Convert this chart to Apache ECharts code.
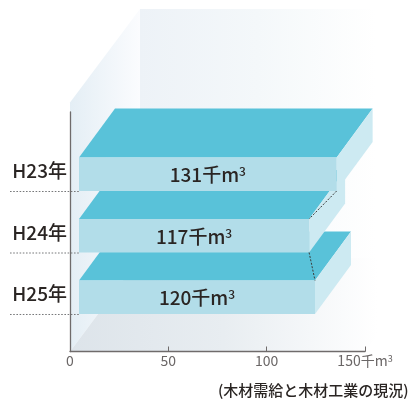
<!DOCTYPE html>
<html><head><meta charset="utf-8">
<style>html,body{margin:0;padding:0;background:#fff}#c{width:408px;height:403px}</style>
<script src="https://cdn.jsdelivr.net/npm/echarts@6/dist/echarts.min.js"></script></head>
<body><div id="c"></div>
<script>
const categories = ['H25年', 'H24年', 'H23年'];
const values = [120, 117, 131];
const slotIndex = [0, 1, 2];
const xTicks = [0, 50, 100, 150];
const source = '(木材需給と木材工業の現況)';

const FONT = '"Noto Sans CJK JP","Noto Sans",sans-serif';
const TEXT = '#2a2523', AXIS = '#6f6b6b', TICKTEXT = '#6a6666';
const TOP = '#59c2d9', FRONT = '#b2dde9', SIDE = '#cdeaf2';
const INSET = 9, BAR_H = 33.5;
const chart = echarts.init(document.getElementById('c'), null, {renderer: 'canvas'});
const grad = (x1, x2, stops) => ({type: 'linear', x: x1, y: 0, x2: x2, y2: 0, global: true,
  colorStops: stops.map((c, i) => ({offset: i / (stops.length - 1), color: c}))});
const poly = (pts, fill, z) => ({type: 'polygon', z2: z, shape: {points: pts}, style: {fill: fill}});
const dash = (a, b, z, color, w, d) => ({type: 'line', z2: z, shape: {x1: a[0], y1: a[1], x2: b[0], y2: b[1]},
  style: {stroke: color, lineWidth: w, lineDash: d}});

function renderWalls(params, api) {
  const o = api.coord([0, api.value(0)]);
  const x0 = o[0], y0 = o[1], dx = 70, dy = 93.5, wallH = 249;
  const bx = x0 + dx, by = y0 - dy;
  const end = api.coord([150, api.value(0)])[0];
  return {type: 'group', children: [
    poly([[bx, by - wallH], [bx + 236, by - wallH], [bx + 236, by], [bx, by]],
      grad(bx, bx + 236, ['#edf2f7', '#f4f8fa', '#ffffff']), 1),
    poly([[x0, y0], [bx, by], [bx, by - wallH], [x0, y0 - wallH]],
      grad(x0, bx, ['#e4eef5', '#fbfcfe']), 2),
    poly([[x0, y0], [end, y0], [end + dx, by], [bx, by]],
      grad(x0, end + 12, ['#dde4ea', '#e8edf1', '#ffffff']), 3)
  ]};
}

function renderBar(params, api) {
  const idx = api.value(2);
  const org = api.coord([0, idx]);
  const endX = api.coord([api.value(0), idx])[0];
  const dx = 36, dy = 49;
  const l = org[0] + INSET, r = endX + INSET, b = org[1], t = b - BAR_H;
  const z = 20 + idx * 5;
  return {type: 'group', children: [
    poly([[l, t], [r, t], [r + dx, t - dy], [l + dx, t - dy]], TOP, z),
    poly([[r, t], [r + dx, t - dy], [r + dx, b - dy], [r, b]], SIDE, z),
    poly([[l, t], [r, t], [r, b], [l, b]], FRONT, z + 1),
    dash([10, b + 0.5], [80, b + 0.5], 50, '#77787a', 1, [1.6, 1.6]),
    {type: 'text', z2: 60, style: {x: 67, y: (t + b) / 2 - 3, text: api.value(3),
      font: '500 19px ' + FONT, fill: TEXT, align: 'right', verticalAlign: 'middle'}},
    {type: 'text', z2: 60, style: {x: (l + r) / 2, y: (t + b) / 2 + 1,
      text: '{a|' + api.value(0) + '千m}{b|3}', align: 'center', verticalAlign: 'middle',
      rich: {a: {font: '500 19px ' + FONT, fill: TEXT, color: TEXT},
             b: {font: '500 12px ' + FONT, fill: TEXT, color: TEXT, verticalAlign: 'top', padding: [0, 0, 4, 0]}}}}
  ]};
}

function renderLinks(params, api) {
  const a = api.coord([api.value(0), api.value(2)]), b = api.coord([api.value(1), api.value(3)]);
  return dash([a[0] + INSET, a[1]], [b[0] + INSET, b[1] - BAR_H], 70, '#3c3c3c', 1, [2, 1.5]);
}

chart.setOption({
  animation: false,
  backgroundColor: '#fff',
  grid: {left: 70, right: 43, top: 112, bottom: 51.5, containLabel: false},
  xAxis: {type: 'value', min: 0, max: 150, interval: 50, z: 30,
    axisLine: {show: true, onZero: false, lineStyle: {color: AXIS, width: 1.3}},
    axisTick: {show: true, inside: true, length: 5, lineStyle: {color: AXIS, width: 1}},
    splitLine: {show: false},
    axisLabel: {margin: 2, fontFamily: FONT, fontSize: 14, color: TICKTEXT, hideOverlap: false,
      rich: {s: {fontSize: 9, color: TICKTEXT, fontFamily: FONT, padding: [0, 0, 4, 0]}, u: {fontSize: 14, color: TICKTEXT, fontFamily: FONT}},
      formatter: v => v === xTicks[3] ? '{u|' + v + '千m}{s|3}' : String(v)}},
  yAxis: {type: 'value', min: -0.61, max: 3.285, z: 30,
    axisLine: {show: true, onZero: false, lineStyle: {color: AXIS, width: 1.3}},
    axisTick: {show: false}, axisLabel: {show: false}, splitLine: {show: false}},
  series: [
    {type: 'custom', coordinateSystem: 'cartesian2d', renderItem: renderWalls, silent: true, z: 1,
     encode: {x: 1, y: 0}, data: [[-0.61, 0]], clip: false},
    {type: 'custom', coordinateSystem: 'cartesian2d', renderItem: renderBar, silent: true, z: 2,
     encode: {x: 0, y: 2}, clip: false,
     data: values.map((v, i) => [v, 0, slotIndex[i], categories[i]])},
    {type: 'custom', coordinateSystem: 'cartesian2d', renderItem: renderLinks, silent: true, z: 3,
     encode: {x: 0, y: 2}, clip: false,
     data: [[values[2], values[1], slotIndex[2], slotIndex[1]], [values[1], values[0], slotIndex[1], slotIndex[0]]]}
  ],
  graphic: [{type: 'text', left: 218, top: 383, z: 100, style: {text: source, font: '500 15px ' + FONT, fill: TEXT}}]
});
</script></body></html>
